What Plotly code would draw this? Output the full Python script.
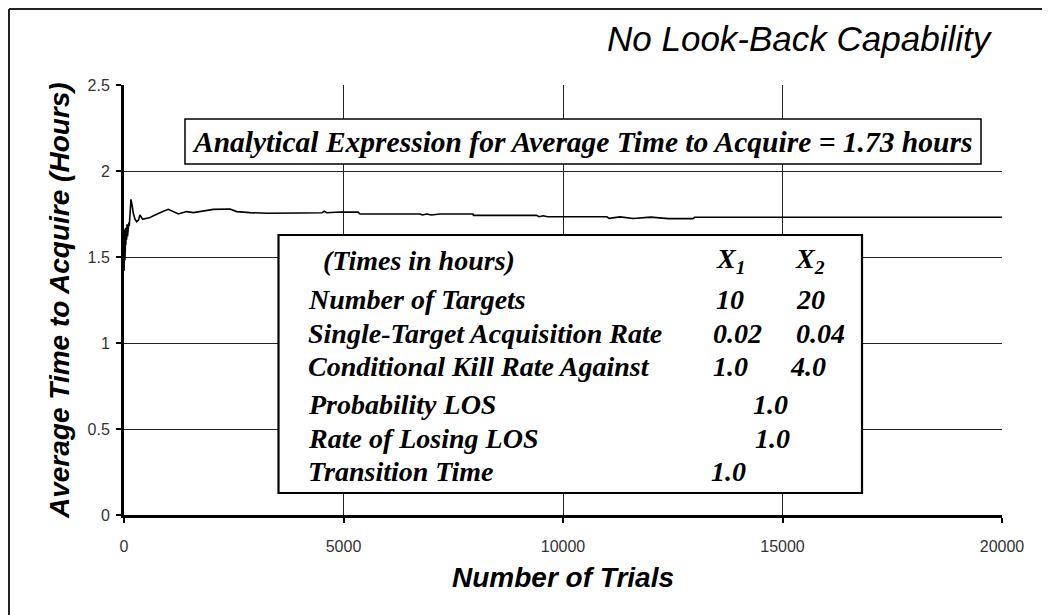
import plotly.graph_objects as go

# ---------------- data ----------------
trials = [1, 3, 5, 8, 10, 13, 16, 20, 25, 30, 35, 40, 50, 60, 70, 80, 90, 100,
          110, 120, 130, 140, 159, 185, 212, 250, 289, 330, 364, 425, 500, 592,
          670, 744, 896, 1010, 1124, 1238, 1330, 1428, 1580, 1807, 2035, 2415,
          2567, 2870, 3251, 4009, 4510, 4560, 4620, 4920, 5330, 5376, 6740,
          6800, 6900, 7000, 7200, 7950, 7960, 9400, 9450, 9550, 9650, 9770,
          11000, 11050, 11300, 11600, 12000, 12400, 12960, 13000, 16000,
          17500, 20000]
avg_time = [1.50, 1.42, 1.62, 1.45, 1.58, 1.52, 1.66, 1.48, 1.60, 1.55, 1.67,
            1.57, 1.64, 1.60, 1.69, 1.62, 1.67, 1.65, 1.70, 1.68, 1.74, 1.80,
            1.835, 1.80, 1.754, 1.72, 1.705, 1.715, 1.744, 1.719, 1.725, 1.729,
            1.74, 1.750, 1.766, 1.777, 1.762, 1.750, 1.757, 1.764, 1.758,
            1.767, 1.777, 1.779, 1.764, 1.758, 1.754, 1.756, 1.757, 1.766,
            1.757, 1.762, 1.761, 1.750, 1.750, 1.744, 1.750, 1.744, 1.750,
            1.750, 1.742, 1.742, 1.734, 1.740, 1.734, 1.734, 1.734, 1.725,
            1.733, 1.724, 1.732, 1.723, 1.723, 1.731, 1.731, 1.732, 1.731]

x_ticks = [0, 5000, 10000, 15000, 20000]
y_ticks = [0, 0.5, 1, 1.5, 2, 2.5]
y_tick_labels = ["0", "0.5", "1", "1.5", "2", "2.5"]

title_text = "No Look-Back Capability"
x_title = "Number of Trials"
y_title = "Average Time to Acquire (Hours)"
analytic_text = "Analytical Expression for Average Time to Acquire = 1.73 hours"

table_header = "(Times in hours)"
col_headers = ["X<sub>1</sub>", "X<sub>2</sub>"]
param_names = ["Number of Targets", "Single-Target Acquisition Rate",
               "Conditional Kill Rate Against"]
x1_values = ["10", "0.02", "1.0"]
x2_values = ["20", "0.04", "4.0"]
shared_names = ["Probability LOS", "Rate of Losing LOS", "Transition Time"]
shared_values = ["1.0", "1.0", "1.0"]

# ---------------- figure ----------------
# the page adds an 8px body margin, so the figure is 8px smaller than the window
W, H = 1042, 607
OFF = 8
PL, PR, PT, PB = 124, 1002, 85, 515   # plot area in window pixels

fig = go.Figure()
fig.add_trace(go.Scatter(x=trials, y=avg_time, mode="lines",
                         line=dict(color="black", width=1.6),
                         showlegend=False, hoverinfo="skip"))

serif = dict(family="Liberation Serif, Times New Roman, serif", size=28,
             color="black", weight="bold", style="italic")


def px2x(px):
    return (px - PL) * 20000 / (PR - PL)


def py2y(py):
    return (PB - py) * 2.5 / (PB - PT)


def px2paper(px):
    return (px - PL) / (PR - PL)


def py2paper(py):
    return (PB - py) / (PB - PT)


# analytical expression box
fig.add_shape(type="rect", xref="x", yref="y", x0=px2x(185), x1=px2x(981),
              y0=py2y(164), y1=py2y(119), line=dict(color="black", width=1.5),
              fillcolor="white", layer="above")
fig.add_annotation(x=px2x(582), y=py2y(142), xref="x", yref="y", text=analytic_text,
                   showarrow=False, xanchor="center", yanchor="middle",
                   font=dict(serif, size=29.5))

# table box
fig.add_shape(type="rect", xref="x", yref="y", x0=px2x(278.5), x1=px2x(862),
              y0=py2y(493), y1=py2y(235), line=dict(color="black", width=2.2),
              fillcolor="white", layer="above")

row_y = [py2y(py) for py in (260, 299, 333, 366, 404, 438, 471)]

fig.add_annotation(x=px2x(321), y=row_y[0], text=table_header, showarrow=False,
                   xanchor="left", yanchor="middle", font=serif)
for txt, cx in zip(col_headers, (730, 810)):
    fig.add_annotation(x=px2x(cx), y=row_y[0], text=txt, showarrow=False,
                       xanchor="center", yanchor="middle", font=serif)
x1_cx = [730, 737, 730]
x2_cx = [810, 820, 808]
for i, name in enumerate(param_names):
    fig.add_annotation(x=px2x(306), y=row_y[i + 1], text=name, showarrow=False,
                       xanchor="left", yanchor="middle", font=serif)
    fig.add_annotation(x=px2x(x1_cx[i]), y=row_y[i + 1], text=x1_values[i],
                       showarrow=False, xanchor="center", yanchor="middle",
                       font=serif)
    fig.add_annotation(x=px2x(x2_cx[i]), y=row_y[i + 1], text=x2_values[i],
                       showarrow=False, xanchor="center", yanchor="middle",
                       font=serif)
shared_cx = [770, 772, 728]
for i, name in enumerate(shared_names):
    fig.add_annotation(x=px2x(306), y=row_y[i + 4], text=name, showarrow=False,
                       xanchor="left", yanchor="middle", font=serif)
    fig.add_annotation(x=px2x(shared_cx[i]), y=row_y[i + 4],
                       text=shared_values[i], showarrow=False,
                       xanchor="center", yanchor="middle", font=serif)

sans = "Arial, Liberation Sans, sans-serif"
# titles
fig.add_annotation(x=px2paper(995), y=py2paper(39), xref="paper", yref="paper",
                   text=title_text, showarrow=False, xanchor="right",
                   yanchor="middle",
                   font=dict(family=sans, size=35, color="black", style="italic"))
fig.add_annotation(x=px2paper(563), y=py2paper(577), xref="paper", yref="paper",
                   text=x_title, showarrow=False, xanchor="center",
                   yanchor="middle",
                   font=dict(family=sans, size=28, color="black",
                             style="italic", weight="bold"))
fig.add_annotation(x=px2paper(59), y=py2paper(301), xref="paper", yref="paper",
                   text=y_title, textangle=-90, showarrow=False,
                   xanchor="center", yanchor="middle",
                   font=dict(family=sans, size=28, color="black",
                             style="italic", weight="bold"))

# outer frame (top and left edges visible in the reference)
fig.add_shape(type="line", xref="paper", yref="paper",
              x0=px2paper(OFF + 1), x1=px2paper(1060),
              y0=py2paper(OFF + 1), y1=py2paper(OFF + 1),
              line=dict(color="#222", width=2), layer="below")
fig.add_shape(type="line", xref="paper", yref="paper",
              x0=px2paper(OFF + 1), x1=px2paper(OFF + 1),
              y0=py2paper(OFF + 1), y1=py2paper(640),
              line=dict(color="#222", width=2), layer="below")

tickfont = dict(family=sans, size=16, color="#333")
fig.update_xaxes(range=[0, 20000], tickvals=x_ticks,
                 ticktext=[str(v) for v in x_ticks],
                 showgrid=True, gridcolor="#222", gridwidth=1,
                 showline=True, linecolor="black", linewidth=3,
                 ticks="outside", ticklen=5, tickwidth=1.5, tickcolor="black",
                 tickfont=tickfont, zeroline=False, ticklabelstandoff=10)
fig.update_yaxes(range=[0, 2.5], tickvals=y_ticks, ticktext=y_tick_labels,
                 showgrid=True, gridcolor="#222", gridwidth=1,
                 showline=True, linecolor="black", linewidth=3,
                 ticks="outside", ticklen=5, tickwidth=1.5, tickcolor="black",
                 tickfont=tickfont, zeroline=False, ticklabelstandoff=3)

fig.update_layout(width=W, height=H, plot_bgcolor="white",
                  paper_bgcolor="white",
                  margin=dict(l=PL - OFF, r=W - (PR - OFF), t=PT - OFF,
                              b=H - (PB - OFF)),
                  showlegend=False)

fig.write_html("out.html")
